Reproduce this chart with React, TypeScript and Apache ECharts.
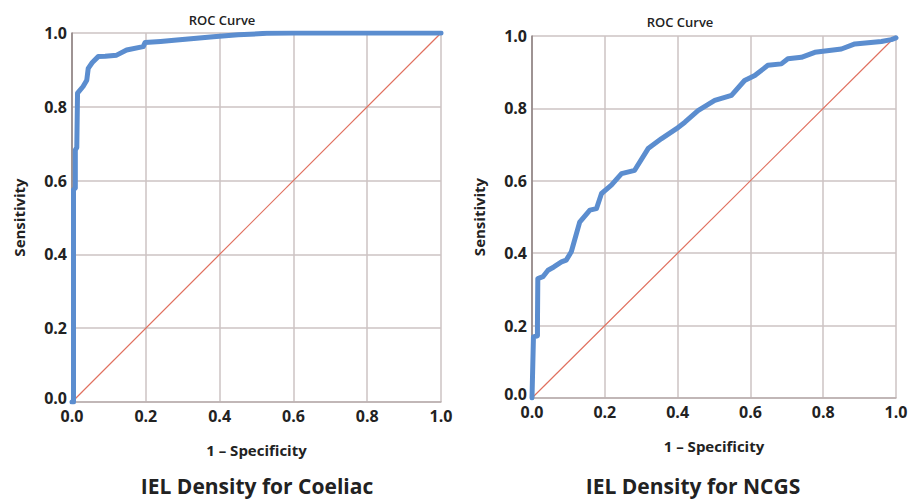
import React, { useEffect, useRef } from "react";
import * as echarts from "echarts";

const coeliacX = [0, 0.004, 0.004, 0.009, 0.009, 0.013, 0.015, 0.03, 0.04, 0.044, 0.055, 0.071, 0.09, 0.121, 0.148, 0.193, 0.198, 0.24, 0.284, 0.33, 0.383, 0.45, 0.528, 0.6, 0.8, 1.0];
const coeliacY = [0, 0, 0.575, 0.58, 0.683, 0.69, 0.837, 0.855, 0.872, 0.904, 0.92, 0.936, 0.937, 0.94, 0.954, 0.963, 0.974, 0.977, 0.981, 0.985, 0.99, 0.995, 0.999, 1.0, 1.0, 1.0];

const ncgsX = [0, 0.004, 0.004, 0.015, 0.015, 0.016, 0.03, 0.044, 0.06, 0.081, 0.094, 0.108, 0.131, 0.159, 0.177, 0.191, 0.218, 0.246, 0.282, 0.319, 0.355, 0.397, 0.42, 0.456, 0.502, 0.548, 0.584, 0.612, 0.648, 0.685, 0.703, 0.74, 0.777, 0.85, 0.887, 0.96, 0.987, 1.0];
const ncgsY = [0, 0.169, 0.17, 0.172, 0.206, 0.33, 0.335, 0.353, 0.362, 0.376, 0.381, 0.404, 0.486, 0.519, 0.523, 0.565, 0.588, 0.62, 0.629, 0.689, 0.716, 0.744, 0.762, 0.794, 0.822, 0.836, 0.877, 0.891, 0.919, 0.923, 0.937, 0.941, 0.955, 0.964, 0.978, 0.985, 0.99, 0.995];

const diagX = [0, 1];
const diagY = [0, 1];

const plotTitles = ["ROC Curve", "ROC Curve"];
const bottomTitles = ["IEL Density for Coeliac", "IEL Density for NCGS"];
const xName = "1 – Specificity";
const yName = "Sensitivity";

const FONT = "'Open Sans', 'DejaVu Sans', sans-serif";

export default function App() {
  const ref = useRef<HTMLDivElement>(null);
  useEffect(() => {
    if (!ref.current) return;
    const chart = echarts.init(ref.current, undefined, { renderer: "svg" });
    const zip = (xs: number[], ys: number[]) => xs.map((x, i) => [x, ys[i]]);
    const grids = [
      { left: 72, top: 33, width: 369, height: 369 },
      { left: 532, top: 36, width: 364, height: 362 },
    ];
    const labelFont = {
      fontFamily: FONT,
      fontWeight: "bold" as const,
      fontSize: 16,
      color: "#222",
    };
    const nameStyle = { fontFamily: FONT, fontWeight: "bold", fontSize: 15, color: "#222" };
    const xAxes = grids.map((_, i) => ({
      type: "value",
      gridIndex: i,
      min: 0,
      max: 1,
      interval: 0.2,
      name: xName,
      nameLocation: "middle",
      nameGap: 40,
      nameTextStyle: nameStyle,
      axisLine: { show: true, lineStyle: { color: "#b9aeae", width: 1.5 } },
      axisTick: { show: false },
      axisLabel: { ...labelFont, margin: 6, formatter: (v: number) => v.toFixed(1) },
      splitLine: { show: true, lineStyle: { color: "#cdc3c3", width: 1.5 } },
    }));
    const yAxes = grids.map((_, i) => ({
      type: "value",
      gridIndex: i,
      min: 0,
      max: 1,
      interval: 0.2,
      name: yName,
      nameLocation: "middle",
      nameGap: 46,
      nameTextStyle: nameStyle,
      axisLine: { show: true, lineStyle: { color: "#8a7e7e", width: 1.5 } },
      axisTick: { show: false },
      axisLabel: {
        ...labelFont,
        margin: 5,
        formatter: (v: number) => (v === 0 ? "{z|0.0}" : v.toFixed(1)),
        rich: { z: { ...labelFont, padding: [0, 0, 8, 0] } },
      },
      splitLine: { show: true, lineStyle: { color: "#cdc3c3", width: 1.5 } },
    }));
    const titleCenters = [
      { x: 222, y: 21 },
      { x: 680, y: 23 },
    ];
    const bottomCenters = [
      { x: 257, y: 488 },
      { x: 693, y: 488 },
    ];
    const titles: any[] = [];
    plotTitles.forEach((t, i) => {
      titles.push({
        text: t,
        left: titleCenters[i].x,
        top: titleCenters[i].y - 8,
        padding: 0,
        textAlign: "center",
        textStyle: { fontFamily: FONT, fontWeight: 600, fontSize: 13, color: "#222" },
      });
    });
    bottomTitles.forEach((t, i) => {
      titles.push({
        text: t,
        left: bottomCenters[i].x,
        top: bottomCenters[i].y - 13,
        padding: 0,
        textAlign: "center",
        textStyle: { fontFamily: FONT, fontWeight: "bold", fontSize: 21, color: "#222" },
      });
    });
    const series: any[] = [];
    [zip(coeliacX, coeliacY), zip(ncgsX, ncgsY)].forEach((d, i) => {
      series.push({
        type: "line",
        xAxisIndex: i,
        yAxisIndex: i,
        data: zip(diagX, diagY),
        symbol: "none",
        lineStyle: { color: "#e0705f", width: 1.2 },
        z: 2,
      });
      series.push({
        type: "line",
        xAxisIndex: i,
        yAxisIndex: i,
        data: d,
        symbol: "none",
        lineStyle: { color: "#5b8dcf", width: 5, join: "round", cap: "round" },
        z: 3,
      });
    });
    chart.setOption({
      animation: false,
      backgroundColor: "#ffffff",
      title: titles,
      grid: grids,
      xAxis: xAxes,
      yAxis: yAxes,
      series,
    });
    return () => chart.dispose();
  }, []);
  return (
    <div
      ref={ref}
      style={{ position: "fixed", left: 0, top: 0, width: 912, height: 502, background: "#fff" }}
    />
  );
}
